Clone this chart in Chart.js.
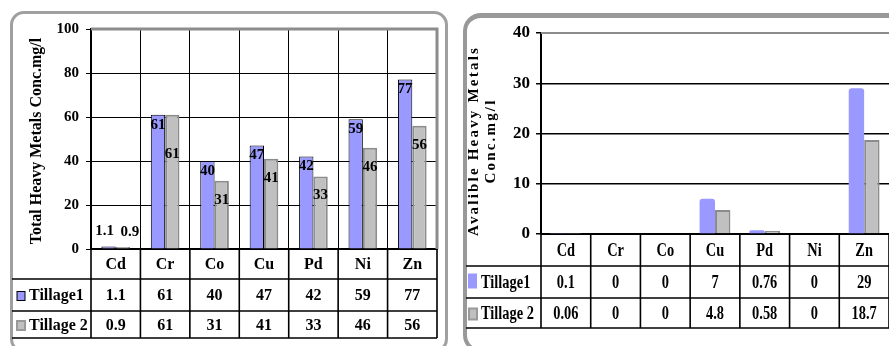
<!DOCTYPE html>
<html>
<head>
<meta charset="utf-8">
<script src="https://cdn.jsdelivr.net/npm/chart.js@4.4.1/dist/chart.umd.min.js"></script>
<style>
  html, body { margin: 0; padding: 0; background: #fff; }
  body { width: 889px; height: 346px; position: relative; overflow: hidden; }
  .panel { position: absolute; box-sizing: border-box; border: 3px solid #a0a0a0; border-radius: 14px; }
  #panelLeft { left: 10px; top: 11px; width: 438px; height: 342px; }
  #panelRight { left: 463px; top: 13px; width: 500px; height: 340px; border-width: 5px 4px 4px 4px; border-color: #999; border-radius: 18px; }
  canvas { position: absolute; top: 0; }
  #totalChart { left: 0; }
  #availChart { left: 450px; }
</style>
</head>
<body>
<div class="panel" id="panelLeft"></div>
<div class="panel" id="panelRight"></div>
<canvas id="totalChart" width="450" height="346"></canvas>
<canvas id="availChart" width="439" height="346"></canvas>
<script>
const categories = ['Cd', 'Cr', 'Co', 'Cu', 'Pd', 'Ni', 'Zn'];
const seriesNames = ['Tillage1', 'Tillage 2'];
const totalTillage1 = [1.1, 61, 40, 47, 42, 59, 77];
const totalTillage2 = [0.9, 61, 31, 41, 33, 46, 56];
const availTillage1 = [0.1, 0, 0, 7, 0.76, 0, 29];
const availTillage2 = [0.06, 0, 0, 4.8, 0.58, 0, 18.7];
const totalTicks = [0, 20, 40, 60, 80, 100];
const availTicks = [0, 10, 20, 30, 40];

const SERIF = "'Liberation Serif', 'Times New Roman', serif";
const BLUE = '#9999ff';
const GREY = '#c0c0c0';
const GREY_EDGE = '#8c8c8c';

// draws text, optionally squeezed horizontally
function putText(ctx, text, x, y, squeeze) {
    ctx.save();
    ctx.translate(x, y);
    ctx.scale(squeeze || 1, 1);
    ctx.fillText(text, 0, 0);
    ctx.restore();
}

const axisTitle = {
    id: 'axisTitle',
    afterDraw(chart, args, opts) {
        const ctx = chart.ctx;
        ctx.save();
        ctx.fillStyle = '#000';
        ctx.font = opts.font;
        ctx.textAlign = 'center';
        ctx.textBaseline = 'middle';
        if ('letterSpacing' in ctx) ctx.letterSpacing = opts.spacing;
        opts.lines.forEach((line, i) => {
            ctx.save();
            ctx.translate(opts.x[i], opts.y);
            ctx.rotate(-Math.PI / 2);
            ctx.fillText(line, 0, 0);
            ctx.restore();
        });
        ctx.restore();
    }
};

const plotFrame = {
    id: 'plotFrame',
    beforeDatasetsDraw(chart, args, opts) {
        const ctx = chart.ctx, a = chart.chartArea;
        ctx.save();
        ctx.strokeStyle = opts.color;
        ctx.lineWidth = opts.width;
        ctx.beginPath();
        ctx.moveTo(a.left, a.top);
        ctx.lineTo(a.right, a.top);
        if (opts.right) ctx.lineTo(a.right, a.bottom);
        ctx.stroke();
        ctx.restore();
    }
};

const barLabels = {
    id: 'barLabels',
    afterDatasetsDraw(chart, args, opts) {
        if (!opts.display) return;
        const ctx = chart.ctx;
        ctx.save();
        ctx.font = 'bold 15px ' + SERIF;
        ctx.fillStyle = '#000';
        ctx.textAlign = 'center';
        ctx.textBaseline = 'middle';
        const firstY = [];
        chart.data.datasets.forEach((ds, di) => {
            chart.getDatasetMeta(di).data.forEach((bar, i) => {
                const h = bar.base - bar.y;
                let x = bar.x, y;
                if (h < 20) {
                    y = bar.y - 15;
                    x += di === 0 ? -4 : 7;
                } else {
                    y = bar.y + (di === 0 ? 10 : 19);
                    // keep the second label clear of the first one
                    if (di === 1 && Math.abs(y - firstY[i]) < 14) y = bar.y + 39;
                }
                if (di === 0) firstY[i] = y;
                ctx.fillText(String(ds.data[i]), x, y);
            });
        });
        ctx.restore();
    }
};

const dataTable = {
    id: 'dataTable',
    afterDraw(chart, args, opts) {
        const ctx = chart.ctx, xs = chart.scales.x;
        const n = categories.length;
        const cw = (xs.right - xs.left) / n;
        const r = opts.rows;
        ctx.save();
        ctx.strokeStyle = '#000';
        ctx.lineWidth = 1.6;
        ctx.beginPath();
        for (let k = 1; k < r.length; k++) {
            ctx.moveTo(opts.left, r[k]);
            ctx.lineTo(xs.right, r[k]);
        }
        for (let i = 0; i <= n; i++) {
            const x = xs.left + i * cw;
            ctx.moveTo(x, r[0]);
            ctx.lineTo(x, r[r.length - 1]);
        }
        ctx.stroke();

        ctx.fillStyle = '#000';
        ctx.textAlign = 'center';
        ctx.textBaseline = 'middle';
        ctx.font = opts.font;
        categories.forEach((c, i) => {
            putText(ctx, c, xs.left + (i + 0.5) * cw, (r[0] + r[1]) / 2 + 1, opts.squeeze);
        });
        chart.data.datasets.forEach((ds, di) => {
            const yMid = (r[di + 1] + r[di + 2]) / 2 + 1;
            ds.data.forEach((v, i) => {
                putText(ctx, String(v), xs.left + (i + 0.5) * cw, yMid, opts.squeeze);
            });
            const sw = opts.swatches[di];
            ctx.save();
            ctx.fillStyle = ds.backgroundColor;
            ctx.fillRect(sw.x, yMid - sw.h / 2 + sw.dy, sw.w, sw.h);
            if (sw.edge) {
                ctx.strokeStyle = sw.edge;
                ctx.lineWidth = sw.lw;
                ctx.strokeRect(sw.x, yMid - sw.h / 2 + sw.dy, sw.w, sw.h);
            }
            ctx.restore();
            ctx.textAlign = 'left';
            ctx.font = opts.legendFont;
            putText(ctx, ds.label, sw.x + sw.w + 4, yMid, opts.squeeze);
            ctx.font = opts.font;
            ctx.textAlign = 'center';
        });
        ctx.restore();
    }
};

function baseOptions(cfg) {
    return {
        responsive: false,
        animation: false,
        devicePixelRatio: 1,
        layout: { padding: { top: cfg.top, right: cfg.right, bottom: 0, left: 0 } },
        plugins: {
            legend: { display: false },
            tooltip: { enabled: false },
            axisTitle: cfg.title,
            plotFrame: cfg.frame,
            barLabels: { display: cfg.labels },
            dataTable: cfg.table
        },
        scales: {
            x: {
                offset: true,
                ticks: { display: false },
                grid: { display: cfg.vgrid, offset: true, color: '#000', lineWidth: 1, drawTicks: false },
                border: { color: '#000', width: 2 },
                afterFit(s) { s.height = cfg.xHeight; s.paddingLeft = 0; s.paddingRight = 0; }
            },
            y: {
                min: cfg.ticks[0],
                max: cfg.ticks[cfg.ticks.length - 1],
                afterBuildTicks(s) { s.ticks = cfg.ticks.map(v => ({ value: v })); },
                ticks: {
                    color: '#000',
                    padding: cfg.tickPad,
                    font: { family: SERIF, size: cfg.tickSize, weight: 'bold' }
                },
                grid: {
                    color: (c) => c.tick && c.tick.value === cfg.ticks[cfg.ticks.length - 1] ? 'rgba(0,0,0,0)' : '#000',
                    lineWidth: cfg.gridWidth,
                    tickLength: 5,
                    tickColor: '#000'
                },
                border: { color: '#000', width: 2 },
                afterFit(s) { s.width = 91; s.paddingTop = 0; s.paddingBottom = 0; }
            }
        }
    };
}

new Chart(document.getElementById('totalChart'), {
    type: 'bar',
    data: {
        labels: categories,
        datasets: [
            { label: seriesNames[0], data: totalTillage1, backgroundColor: BLUE, borderColor: '#000', borderWidth: 1,
              categoryPercentage: 0.58, barPercentage: 1 },
            { label: seriesNames[1], data: totalTillage2, backgroundColor: GREY, borderColor: GREY_EDGE, borderWidth: 2,
              categoryPercentage: 0.58, barPercentage: 1 }
        ]
    },
    options: baseOptions({
        top: 29, right: 13, xHeight: 97, ticks: totalTicks, tickSize: 15, tickPad: 7, gridWidth: 1,
        vgrid: true, labels: true,
        frame: { color: '#8c8c8c', width: 3, right: true },
        title: { lines: ['Total Heavy Metals Conc.mg/l'], x: [37], y: 141, font: 'bold 16px ' + SERIF, spacing: '0px' },
        table: {
            rows: [249, 279, 311, 338], left: 12, font: 'bold 16px ' + SERIF, legendFont: 'bold 16px ' + SERIF, squeeze: 1,
            swatches: [
                { x: 17, w: 8, h: 9, dy: 0, edge: '#000', lw: 1 },
                { x: 17, w: 8, h: 9, dy: 0, edge: '#9a9a9a', lw: 2 }
            ]
        }
    }),
    plugins: [axisTitle, plotFrame, barLabels, dataTable]
});

new Chart(document.getElementById('availChart'), {
    type: 'bar',
    data: {
        labels: categories,
        datasets: [
            { label: seriesNames[0], data: availTillage1, backgroundColor: BLUE, borderWidth: 0,
              borderRadius: { topLeft: 3, topRight: 3 }, categoryPercentage: 0.62, barPercentage: 1 },
            { label: seriesNames[1], data: availTillage2, backgroundColor: GREY, borderColor: GREY_EDGE, borderWidth: 2,
              categoryPercentage: 0.62, barPercentage: 1 }
        ]
    },
    options: baseOptions({
        top: 33, right: 0, xHeight: 112, ticks: availTicks, tickSize: 17, tickPad: 6, gridWidth: 1.5,
        vgrid: false, labels: false,
        frame: { color: '#8c8c8c', width: 2, right: false },
        title: { lines: ['Avalible Heavy Metals', 'Conc.mg/l'], x: [24, 41], y: 141, font: 'bold 15px ' + SERIF, spacing: '2.2px' },
        table: {
            rows: [234, 266, 298, 328], left: 16, font: 'bold 18px ' + SERIF, legendFont: 'bold 18px ' + SERIF, squeeze: 0.8,
            swatches: [
                { x: 18, w: 9, h: 15, dy: -2, edge: null, lw: 0 },
                { x: 19, w: 8, h: 11, dy: 0, edge: '#9a9a9a', lw: 2 }
            ]
        }
    }),
    plugins: [axisTitle, plotFrame, barLabels, dataTable]
});
</script>
</body>
</html>
